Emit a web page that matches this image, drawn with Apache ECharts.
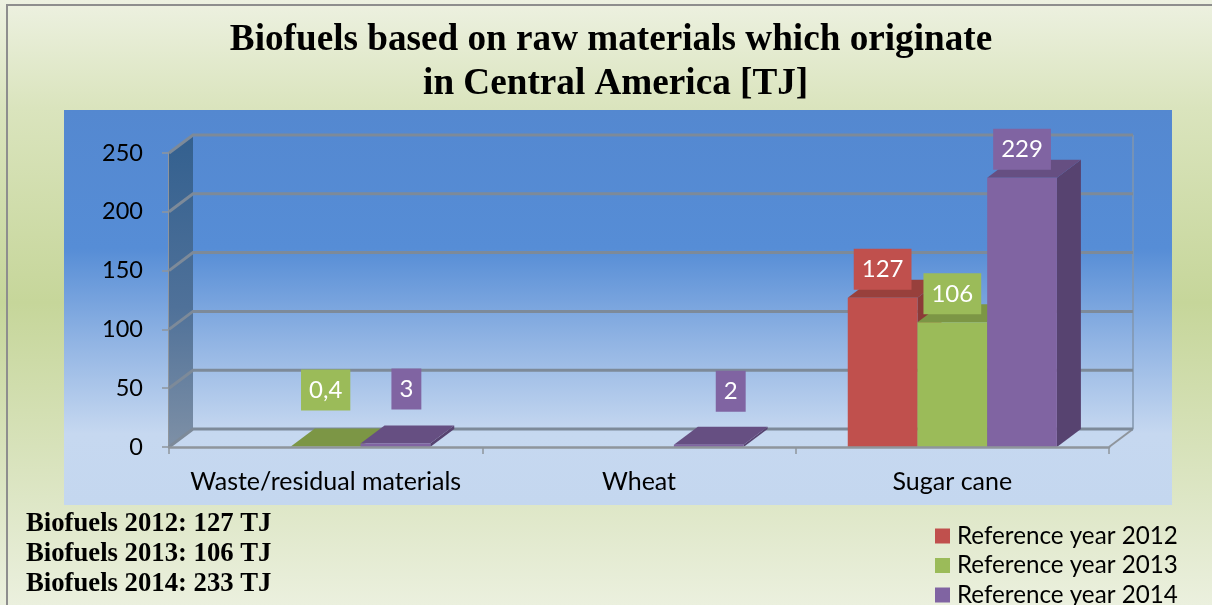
<!DOCTYPE html>
<html>
<head>
<meta charset="utf-8">
<script src="https://cdn.jsdelivr.net/npm/echarts@6/dist/echarts.min.js"></script>
<style>
html, body { margin: 0; padding: 0; }
#main { width: 1212px; height: 605px; }
</style>
</head>
<body>
<div id="main"></div>
<script>
var categories = ['Waste/residual materials', 'Wheat', 'Sugar cane'];
var seriesNames = ['Reference year 2012', 'Reference year 2013', 'Reference year 2014'];
var values2012 = [null, null, 127];
var values2013 = [0.4, null, 106];
var values2014 = [3, 2, 229];
var yTicks = [0, 50, 100, 150, 200, 250];
var titleText = 'Biofuels based on raw materials which originate\n\u00a0in Central America [TJ]';
var summaryLines = ['Biofuels 2012: 127 TJ', 'Biofuels 2013: 106 TJ', 'Biofuels 2014: 233 TJ'];

// label nudges for the flat bars, [dx, dy] per category
var nudges2012 = [[0, 0], [0, 0], [0, 0]];
var nudges2013 = [[0, -28], [0, 0], [0, 0]];
var nudges2014 = [[11, -26], [22, -25], [0, 0]];

var DX = 24, DY = 18; // depth of the fake 3d
var BAR_SHARE = 0.2225;

function poly(points, fill) {
    return { type: 'polygon', shape: { points: points }, style: { fill: fill } };
}

function wallItem(params, api) {
    var p0 = api.coord([0, api.value(0)]);
    var x0 = p0[0] - api.size([1, 0])[0] / 2;
    var y = p0[1];
    var x1 = x0 + api.size([1, 0])[0] * categories.length;
    var lineColor = '#7d8a99';
    var kids = [];
    if (params.dataIndex === 0) {
        var top = api.coord([0, yTicks[yTicks.length - 1]])[1];
        kids.push({
            type: 'polygon',
            shape: { points: [[x0, top], [x0 + DX, top - DY], [x0 + DX, y - DY], [x0, y]] },
            style: {
                fill: new echarts.graphic.LinearGradient(0, 0, 0, 1, [
                    { offset: 0, color: '#33608f' },
                    { offset: 0.55, color: '#4f7199' },
                    { offset: 1, color: '#7e90a6' }
                ])
            }
        });
        kids.push({
            type: 'line',
            shape: { x1: x1 + DX, y1: top - DY, x2: x1 + DX, y2: y - DY },
            style: { stroke: '#8296ad', lineWidth: 1.5 }
        });
        kids.push({
            type: 'line',
            shape: { x1: x1, y1: y, x2: x1 + DX, y2: y - DY },
            style: { stroke: '#8f959c', lineWidth: 2 }
        });
    }
    kids.push({
        type: 'polyline',
        shape: { points: [[x0, y], [x0 + DX, y - DY], [x1 + DX, y - DY]] },
        style: { stroke: lineColor, lineWidth: 3, fill: 'none' }
    });
    return { type: 'group', children: kids };
}

function barRenderer(slot, colors, nudges) {
    return function (params, api) {
        var val = api.value(1);
        if (val == null || isNaN(val)) return;
        var cat = api.value(0);
        var band = api.size([1, 0])[0];
        var w = band * BAR_SHARE;
        var top = api.coord([cat, val]);
        var base = api.coord([cat, 0]);
        var l = top[0] + (slot - 1.5) * w;
        var r = l + w;
        var y = top[1], b = base[1];
        var nudge = nudges[cat];
        return {
            type: 'group',
            children: [
                poly([[r, y], [r + DX, y - DY], [r + DX, b - DY], [r, b]], colors.side),
                poly([[l, y], [l + DX, y - DY], [r + DX, y - DY], [r, y]], colors.top),
                poly([[l, y], [r, y], [r, b], [l, b]], colors.front),
                {
                    type: 'text',
                    z2: 50,
                    style: {
                        x: (l + r) / 2 + nudge[0],
                        y: y - 8 + nudge[1],
                        text: String(val).replace('.', ','),
                        align: 'center',
                        verticalAlign: 'bottom',
                        fill: '#fff',
                        font: '24px Lato',
                        backgroundColor: colors.front,
                        padding: [8.5, 8, 8.5, 8]
                    }
                }
            ]
        };
    };
}

function barData(values) {
    return values.map(function (v, i) { return [i, v]; });
}

var barColors = [
    { front: '#c0504d', top: '#98403c', side: '#8c3a37' },
    { front: '#9bbb59', top: '#7c9645', side: '#718a3f' },
    { front: '#8064a2', top: '#664f82', side: '#574370' }
];

var summaryGraphics = summaryLines.map(function (line, i) {
    return {
        type: 'text',
        left: 26,
        top: 511 + i * 30,
        z: 10,
        style: { text: line, font: 'bold 26.7px "Liberation Serif"', fill: '#000' }
    };
});

var chart = echarts.init(document.getElementById('main'));
var option = {
    animation: false,
    backgroundColor: new echarts.graphic.LinearGradient(0, 0, 0, 1, [
        { offset: 0, color: '#edf1e1' },
        { offset: 0.18, color: '#dae4bd' },
        { offset: 0.5, color: '#c6d69a' },
        { offset: 0.82, color: '#dde6c5' },
        { offset: 1, color: '#ebf0de' }
    ]),
    title: {
        text: titleText,
        left: 606,
        top: 13,
        textAlign: 'center',
        textStyle: {
            fontFamily: 'Liberation Serif',
            fontWeight: 'bold',
            fontSize: 37.2,
            lineHeight: 44,
            color: '#000'
        }
    },
    legend: {
        orient: 'vertical',
        left: 935,
        top: 524,
        height: 110,
        padding: 0,
        itemWidth: 15,
        itemHeight: 15,
        itemGap: 5.5,
        icon: 'rect',
        data: seriesNames,
        textStyle: { fontFamily: 'Lato', fontSize: 24.2, color: '#000', padding: [0, 0, 0, 2] }
    },
    graphic: [
        {
            type: 'rect',
            z: -10,
            shape: { x: 64, y: 110, width: 1108, height: 395 },
            style: {
                fill: new echarts.graphic.LinearGradient(0, 0, 0, 1, [
                    { offset: 0, color: '#5488d0' },
                    { offset: 0.35, color: '#568dd6' },
                    { offset: 0.6, color: '#94b6e4' },
                    { offset: 0.82, color: '#c6d8f0' },
                    { offset: 1, color: '#c4d7ef' }
                ])
            }
        },
        { type: 'rect', z: -9, shape: { x: 6, y: 4, width: 2, height: 601 }, style: { fill: '#8e8e8e' } },
        { type: 'rect', z: -9, shape: { x: 6, y: 4, width: 1206, height: 2 }, style: { fill: '#8e8e8e' } }
    ].concat(summaryGraphics),
    grid: { left: 169, right: 103, top: 153, bottom: 158 },
    xAxis: {
        type: 'category',
        data: categories,
        z: 5,
        axisLine: { lineStyle: { color: '#8f959c', width: 2.5 } },
        axisTick: { show: true, length: 7, interval: 0, lineStyle: { color: '#8f959c', width: 1.5 } },
        axisLabel: { fontFamily: 'Lato', fontSize: 25, color: '#000', margin: 22, interval: 0 }
    },
    yAxis: {
        type: 'value',
        min: 0,
        max: 250,
        interval: 50,
        splitLine: { show: false },
        axisLine: { show: true, lineStyle: { color: '#8f959c', width: 2 } },
        axisTick: { show: true, length: 7, lineStyle: { color: '#8f959c', width: 1.5 } },
        axisLabel: { fontFamily: 'Lato', fontSize: 23.5, color: '#000', margin: 26 }
    },
    series: [
        {
            type: 'custom',
            silent: true,
            coordinateSystem: 'cartesian2d',
            renderItem: wallItem,
            data: yTicks,
            encode: { y: 0 },
            z: 1
        },
        {
            name: seriesNames[0],
            type: 'custom',
            renderItem: barRenderer(0, barColors[0], nudges2012),
            itemStyle: { color: barColors[0].front },
            encode: { x: 0, y: 1 },
            data: barData(values2012),
            z: 2
        },
        {
            name: seriesNames[1],
            type: 'custom',
            renderItem: barRenderer(1, barColors[1], nudges2013),
            itemStyle: { color: barColors[1].front },
            encode: { x: 0, y: 1 },
            data: barData(values2013),
            z: 3
        },
        {
            name: seriesNames[2],
            type: 'custom',
            renderItem: barRenderer(2, barColors[2], nudges2014),
            itemStyle: { color: barColors[2].front },
            encode: { x: 0, y: 1 },
            data: barData(values2014),
            z: 4
        }
    ]
};
chart.setOption(option);
window.addEventListener('resize', function () { chart.resize(); });
</script>
</body>
</html>
